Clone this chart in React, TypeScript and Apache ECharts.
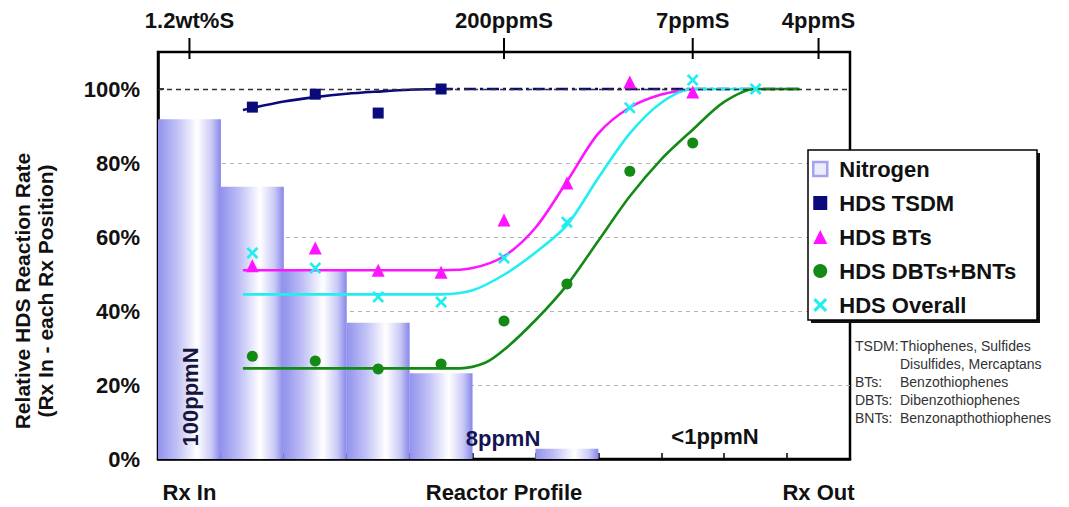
import React, { useEffect, useRef } from 'react';
import * as echarts from 'echarts';

// ---------- data ----------
const positions = ['0', '1', '2', '3', '4', '5', '6', '7', '8', '9', '10'];
const bottomLabels = ['Rx In', '', '', '', '', 'Reactor Profile', '', '', '', '', 'Rx Out'];
const topLabels = ['1.2wt%S', '', '', '', '', '200ppmS', '', '', '7ppmS', '', '4ppmS'];

// Nitrogen (relative %), one bar per reactor position
const nitrogen = [91.8, 73.6, 50.8, 36.8, 23.2, null, 2.8, null, null, null, null];

// measured HDS points: [position, %]
const tsdmPoints = [[1, 95.1], [2, 98.6], [3, 93.5], [4, 100]];
const btsPoints = [[1, 52.2], [2, 57], [3, 51], [4, 50.5], [5, 64.6], [6, 74.6], [7, 101.9], [8, 99.2]];
const dbtsPoints = [[1, 27.8], [2, 26.5], [3, 24.3], [4, 25.7], [5, 37.3], [6, 47.3], [7, 77.8], [8, 85.4]];
const overallPoints = [[1, 55.7], [2, 51.6], [3, 43.8], [4, 42.4], [5, 54.3], [6, 64], [7, 94.9], [8, 102.4], [9, 100]];

// fitted trend curves: [position, %]
const tsdmFit = [[0.85, 94.3], [1.5, 96.6], [2, 97.8], [2.5, 98.7], [3, 99.3], [3.5, 99.8], [4, 100]];
const tsdmPlateau = [[4, 100], [9.7, 100]];
const btsFit = [[0.85, 51], [4, 51], [4.5, 51.6], [5, 54.8], [5.5, 62.5], [6, 75], [6.5, 88], [7, 95], [7.5, 98.5], [8, 100]];
const overallFit = [[0.85, 44.5], [4, 44.5], [4.5, 45.6], [5, 49.8], [5.5, 55.8], [6, 63.2], [6.5, 76], [7, 88], [7.5, 96.3], [8, 100], [9, 100]];
const dbtsFit = [[0.85, 24.5], [4.3, 24.5], [4.7, 26], [5, 29.5], [5.5, 37.5], [6, 47], [6.5, 59], [7, 71], [7.5, 81], [8, 89], [8.5, 96.5], [9, 100], [9.7, 100]];

const yTickValues = [0, 20, 40, 60, 80, 100];

const legendNames = ['Nitrogen', 'HDS TSDM', 'HDS BTs', 'HDS DBTs+BNTs', 'HDS Overall'];
const noteRows = [
  ['TSDM:', 'Thiophenes, Sulfides'],
  ['', 'Disulfides, Mercaptans'],
  ['BTs:', 'Benzothiophenes'],
  ['DBTs:', 'Dibenzothiophenes'],
  ['BNTs:', 'Benzonapthothiophenes'],
];
const nitrogenNotes = ['100ppmN', '8ppmN', '<1ppmN'];
const yTitle = ['Relative HDS Reaction Rate', '(Rx In - each Rx Position)'];

// ---------- style ----------
const FONT = '"Liberation Sans", Arial, Helvetica, sans-serif';
const NAVY = '#0a0a7a';
const MAGENTA = '#ff14ff';
const CYAN = '#22eef2';
const GREEN = '#138a13';
const CROSS = 'path://M0,1.6 L1.6,0 L5,3.4 L8.4,0 L10,1.6 L6.6,5 L10,8.4 L8.4,10 L5,6.6 L1.6,10 L0,8.4 L3.4,5 Z';

export default function App() {
  const ref = useRef<HTMLDivElement>(null);

  useEffect(() => {
    if (!ref.current) return;
    const chart = echarts.init(ref.current, undefined, { renderer: 'svg' });

    const barGradient = new echarts.graphic.LinearGradient(0, 0, 1, 0, [
      { offset: 0, color: '#9292ee' },
      { offset: 0.3, color: '#c0c0f6' },
      { offset: 0.62, color: '#ffffff' },
      { offset: 0.85, color: '#cacaf7' },
      { offset: 1, color: '#8686ea' },
    ]);

    const lineSeries = (name: string, data: number[][], color: string, dashed = false) => ({
      name,
      type: 'line',
      xAxisIndex: 2,
      yAxisIndex: 0,
      data,
      smooth: 0.3,
      showSymbol: false,
      symbol: 'none',
      silent: true,
      z: 3,
      lineStyle: { color, width: 2.6, type: dashed ? [12, 4, 3, 4] : 'solid' },
    });

    const scatterSeries = (name: string, data: number[][], color: string, symbol: string, size: number) => ({
      name,
      type: 'scatter',
      xAxisIndex: 2,
      yAxisIndex: 0,
      data,
      symbol,
      symbolSize: size,
      z: 5,
      itemStyle: { color, opacity: 1 },
    });

    const graphics: any[] = [
      // legend frame with shadow
      { type: 'rect', z: 3, shape: { x: 811, y: 153, width: 229, height: 170 }, style: { fill: '#111' } },
      { type: 'rect', z: 3, shape: { x: 808, y: 150, width: 229, height: 170 }, style: { fill: '#fff', stroke: '#000', lineWidth: 1.5 } },
      // y-axis title
      {
        type: 'text', x: 34, y: 291, rotation: Math.PI / 2, z: 5,
        style: {
          text: yTitle.join('\n'), fontSize: 21, fontWeight: 'bold', fontFamily: FONT, fill: '#111',
          textAlign: 'center', align: 'center', textVerticalAlign: 'middle', verticalAlign: 'middle', lineHeight: 23,
        },
      },
      // nitrogen level notes
      {
        type: 'text', x: 190, y: 397, rotation: Math.PI / 2, z: 5,
        style: {
          text: nitrogenNotes[0], fontSize: 22, fontWeight: 'bold', fontFamily: FONT, fill: '#16163e',
          textAlign: 'center', align: 'center', textVerticalAlign: 'middle', verticalAlign: 'middle',
        },
      },
      {
        type: 'text', x: 503, y: 438, z: 5,
        style: {
          text: nitrogenNotes[1], fontSize: 22, fontWeight: 'bold', fontFamily: FONT, fill: '#141452',
          textAlign: 'center', align: 'center', textVerticalAlign: 'middle', verticalAlign: 'middle',
        },
      },
      {
        type: 'text', x: 715, y: 436, z: 5,
        style: {
          text: nitrogenNotes[2], fontSize: 22, fontWeight: 'bold', fontFamily: FONT, fill: '#111',
          textAlign: 'center', align: 'center', textVerticalAlign: 'middle', verticalAlign: 'middle',
        },
      },
    ];

    const noteY = [346, 364, 382, 400, 418];
    noteRows.forEach((row, i) => {
      if (row[0]) {
        graphics.push({
          type: 'text', x: 855, y: noteY[i], z: 5,
          style: { text: row[0], fontSize: 14, fontFamily: FONT, fill: '#333', textVerticalAlign: 'middle', verticalAlign: 'middle' },
        });
      }
      graphics.push({
        type: 'text', x: 900, y: noteY[i], z: 5,
        style: { text: row[1], fontSize: 14, fontFamily: FONT, fill: '#333', textVerticalAlign: 'middle', verticalAlign: 'middle' },
      });
    });

    const option: any = {
      animation: false,
      backgroundColor: '#fff',
      textStyle: { fontFamily: FONT },
      grid: {
        left: 158, top: 52, width: 692, height: 407,
        show: true, borderColor: '#000', borderWidth: 2.5, backgroundColor: 'transparent',
        containLabel: false, outerBoundsMode: 'none',
      },
      legend: {
        orient: 'vertical',
        left: 812,
        top: 158,
        padding: 0,
        itemGap: 12,
        itemWidth: 14,
        itemHeight: 14,
        z: 6,
        backgroundColor: 'transparent',
        borderWidth: 0,
        selectedMode: false,
        textStyle: { fontFamily: FONT, fontWeight: 'bold', fontSize: 22, color: '#111', lineHeight: 22, padding: [0, 0, 0, 7] },
        data: [
          { name: legendNames[0], icon: 'rect', itemStyle: { color: '#ececfd', borderColor: '#a4a4ee', borderWidth: 2.5 } },
          { name: legendNames[1], icon: 'rect', itemStyle: { color: NAVY } },
          { name: legendNames[2], icon: 'triangle', itemStyle: { color: MAGENTA } },
          { name: legendNames[3], icon: 'circle', itemStyle: { color: GREEN } },
          { name: legendNames[4], icon: CROSS, itemStyle: { color: CYAN } },
        ],
      },
      xAxis: [
        {
          type: 'category',
          position: 'bottom',
          data: positions,
          boundaryGap: true,
          axisLine: { show: true, onZero: false, lineStyle: { color: '#000', width: 2.5 } },
          axisTick: { show: true, inside: true, length: 6, interval: 0, alignWithLabel: false, lineStyle: { color: '#000', width: 1.5 } },
          axisLabel: {
            interval: 0, margin: 22, fontSize: 22, fontWeight: 'bold', color: '#111', fontFamily: FONT,
            formatter: (_v: string, i: number) => bottomLabels[i],
          },
          splitLine: { show: false },
          splitArea: { show: false },
        },
        {
          type: 'category',
          position: 'top',
          data: positions,
          boundaryGap: true,
          axisLine: { show: false, onZero: false },
          axisTick: { show: false },
          axisLabel: {
            interval: 0, margin: 21, fontSize: 22, fontWeight: 'bold', color: '#111', fontFamily: FONT,
            formatter: (_v: string, i: number) => topLabels[i],
          },
          splitLine: { show: false },
          splitArea: { show: false },
        },
        {
          type: 'value',
          show: false,
          min: -0.5,
          max: 10.5,
          axisLine: { onZero: false },
          splitLine: { show: false },
        },
      ],
      yAxis: [
        {
          type: 'value',
          min: 0,
          max: 110,
          interval: 20,
          axisLine: { show: true, onZero: false, lineStyle: { color: '#000', width: 2.5 } },
          axisTick: { show: true, inside: true, length: 6, lineStyle: { color: '#000', width: 1.5 } },
          axisLabel: {
            margin: 18, fontSize: 22, fontWeight: 'bold', color: '#111', fontFamily: FONT,
            formatter: (v: number) => (yTickValues.indexOf(v) >= 0 ? v + '%' : ''),
          },
          splitLine: {
            show: true,
            showMinLine: false,
            showMaxLine: false,
            lineStyle: { color: ['#b4b4b4', '#b4b4b4', '#b4b4b4', '#b4b4b4', 'rgba(0,0,0,0)'], type: [4, 4], width: 1.2 },
          },
        },
      ],
      series: [
        {
          name: legendNames[0],
          type: 'bar',
          xAxisIndex: 0,
          yAxisIndex: 0,
          data: nitrogen,
          barCategoryGap: '0%',
          barGap: '0%',
          z: 2,
          itemStyle: { color: barGradient },
          markLine: {
            silent: true,
            symbol: 'none',
            label: { show: false },
            lineStyle: { color: '#333', type: [5, 4], width: 1.3 },
            data: [{ yAxis: 100 }],
          },
        },
        lineSeries('TSDM plateau', tsdmPlateau, NAVY, true),
        lineSeries('TSDM fit', tsdmFit, NAVY),
        lineSeries('BTs fit', btsFit, MAGENTA),
        lineSeries('Overall fit', overallFit, CYAN),
        lineSeries('DBTs fit', dbtsFit, GREEN),
        scatterSeries(legendNames[1], tsdmPoints, NAVY, 'rect', 11),
        scatterSeries(legendNames[2], btsPoints, MAGENTA, 'triangle', 13),
        scatterSeries(legendNames[3], dbtsPoints, GREEN, 'circle', 11),
        scatterSeries(legendNames[4], overallPoints, CYAN, CROSS, 12),
      ],
      graphic: graphics,
    };

    chart.setOption(option);

    // top-axis ticks at the labelled categories, placed through the axis itself
    const gridTop = 52;
    const tickLines: any[] = [];
    topLabels.forEach((lab, i) => {
      if (!lab) return;
      const px = chart.convertToPixel({ xAxisIndex: 1 }, positions[i]) as number;
      tickLines.push({
        type: 'line', z: 4,
        shape: { x1: px, y1: gridTop - 14, x2: px, y2: gridTop + 7 },
        style: { stroke: '#000', lineWidth: 2 },
      });
    });
    chart.setOption({ graphic: graphics.concat(tickLines) });

    return () => chart.dispose();
  }, []);

  return (
    <div
      ref={ref}
      style={{ position: 'absolute', left: 0, top: 0, width: 1069, height: 507, background: '#fff' }}
    />
  );
}
